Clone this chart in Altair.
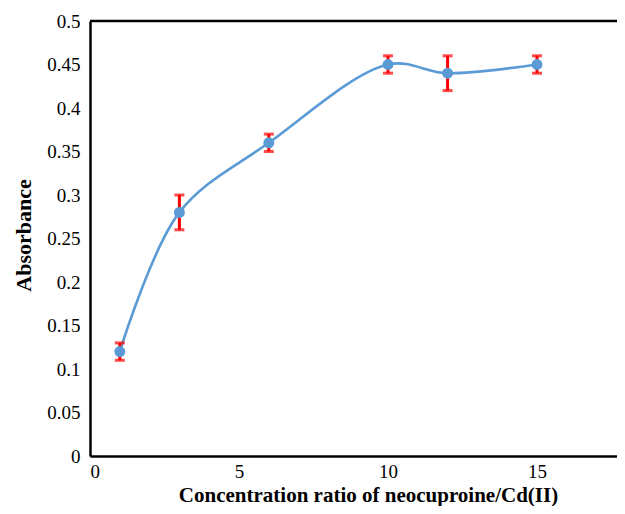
import altair as alt
import pandas as pd

ratio = [1, 3, 6, 10, 12, 15]
absorbance = [0.12, 0.28, 0.36, 0.45, 0.44, 0.45]
error = [0.01, 0.02, 0.01, 0.01, 0.02, 0.01]
x_ticks = [0, 5, 10, 15]
y_ticks = [0, 0.05, 0.1, 0.15, 0.2, 0.25, 0.3, 0.35, 0.4, 0.45, 0.5]

df = pd.DataFrame({"ratio": ratio, "abs": absorbance, "err": error})
df["lo"] = df["abs"] - df["err"]
df["hi"] = df["abs"] + df["err"]

W = 527
H = 435
PPU = 29.8
XMAX = W / PPU

FONT = "'Liberation Serif', 'Times New Roman', Times, serif"
BLUE = "#5B9BD5"
RED = "#FF0000"

xs = alt.Scale(domain=[0, XMAX], nice=False, zero=True)
ys = alt.Scale(domain=[0, 0.5], nice=False)

xaxis = alt.Axis(
    values=x_ticks, grid=False, ticks=False, domainColor="black", domainWidth=2.5,
    labelFont=FONT, labelFontSize=19, labelColor="black", labelPadding=6,
    title="Concentration ratio of neocuproine/Cd(II)", titleFont=FONT, titleFontSize=21,
    titleFontWeight="bold", titleColor="black", titleX=278, titleY=45,
    titleAlign="center", titleBaseline="alphabetic",
)
yaxis = alt.Axis(
    values=y_ticks, format="~g", grid=False, ticks=False, domainColor="black", domainWidth=2.5,
    labelFont=FONT, labelFontSize=19, labelColor="black", labelPadding=10,
    title="Absorbance", titleFont=FONT, titleFontSize=22, titleFontWeight="bold",
    titleColor="black", titleX=-67, titleY=214, titleAlign="center", titleBaseline="middle",
    titleAngle=-90,
)

base = alt.Chart(df)

line = base.mark_line(color=BLUE, strokeWidth=2.6, interpolate="catmull-rom").encode(
    x=alt.X("ratio:Q", scale=xs, axis=xaxis),
    y=alt.Y("abs:Q", scale=ys, axis=yaxis),
)

stem = base.mark_rule(color=RED, strokeWidth=3).encode(
    x="ratio:Q", y="lo:Q", y2="hi:Q"
)
cap_lo = base.mark_tick(color=RED, thickness=3, size=10, orient="horizontal").encode(
    x="ratio:Q", y="lo:Q"
)
cap_hi = base.mark_tick(color=RED, thickness=3, size=10, orient="horizontal").encode(
    x="ratio:Q", y="hi:Q"
)

points = base.mark_point(filled=True, color=BLUE, size=120, opacity=1).encode(
    x="ratio:Q", y="abs:Q"
)

top = alt.Chart(pd.DataFrame({"a": [0]})).mark_rule(color="black", strokeWidth=2.5).encode(
    x=alt.value(0), x2=alt.value(W), y=alt.value(0)
)

chart = (
    alt.layer(top, line, stem, cap_lo, cap_hi, points)
    .properties(
        width=W, height=H,
        autosize=alt.AutoSizeParams(type="none"),
        padding={"left": 82, "top": 13, "right": 0, "bottom": 50},
    )
    .configure_view(stroke=None)
    .configure(background="white", font=FONT)
)

chart.save("out.html", embed_options={"renderer": "svg", "actions": False})
